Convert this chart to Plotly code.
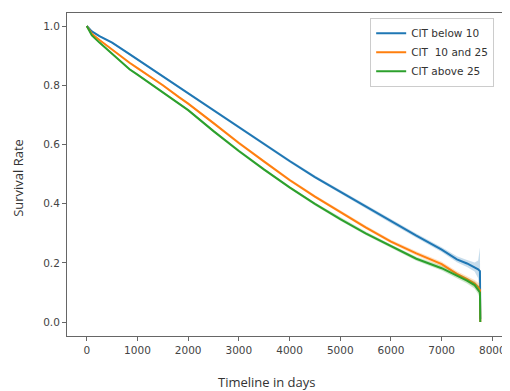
import plotly.graph_objects as go

# ---- data ----
days = [0, 100, 250, 500, 843, 1000, 1500, 1824, 2000, 2500, 3000, 3500, 4000, 4500,
        5000, 5500, 6000, 6500, 7000, 7300, 7500, 7650, 7720, 7755, 7762]

blue_vals = [1.0, 0.982, 0.966, 0.944, 0.905, 0.887, 0.83, 0.792, 0.772, 0.715, 0.658,
             0.601, 0.544, 0.49, 0.44, 0.39, 0.34, 0.292, 0.245, 0.212, 0.198, 0.186,
             0.178, 0.172, 0.01]
orange_vals = [1.0, 0.974, 0.953, 0.92, 0.876, 0.858, 0.8, 0.759, 0.738, 0.672, 0.605,
               0.542, 0.48, 0.424, 0.372, 0.32, 0.272, 0.232, 0.196, 0.163, 0.145, 0.13,
               0.118, 0.108, 0.0]
green_vals = [1.0, 0.968, 0.944, 0.907, 0.854, 0.836, 0.775, 0.737, 0.716, 0.645, 0.578,
              0.515, 0.455, 0.399, 0.348, 0.3, 0.256, 0.214, 0.182, 0.157, 0.14, 0.125,
              0.11, 0.1, 0.0]

blue_ci = [0.0, 0.002, 0.003, 0.003, 0.004, 0.004, 0.004, 0.004, 0.004, 0.005, 0.005,
           0.005, 0.005, 0.005, 0.006, 0.006, 0.006, 0.007, 0.008, 0.01, 0.012, 0.015,
           0.03, 0.08, 0.0]
orange_ci = [0.0, 0.002, 0.003, 0.003, 0.004, 0.004, 0.004, 0.004, 0.004, 0.005, 0.005,
             0.005, 0.005, 0.005, 0.006, 0.006, 0.006, 0.007, 0.008, 0.009, 0.01, 0.012,
             0.015, 0.025, 0.0]
green_ci = [0.0, 0.002, 0.003, 0.003, 0.004, 0.004, 0.004, 0.004, 0.004, 0.005, 0.005,
            0.005, 0.005, 0.005, 0.006, 0.006, 0.006, 0.007, 0.008, 0.009, 0.01, 0.012,
            0.015, 0.02, 0.0]

series_names = ["CIT below 10", "CIT  10 and 25", "CIT above 25"]
series_vals = [blue_vals, orange_vals, green_vals]
series_ci = [blue_ci, orange_ci, green_ci]
colors = ["#1f77b4", "#ff7f0e", "#2ca02c"]
fills = ["rgba(31,119,180,0.25)", "rgba(255,127,14,0.25)", "rgba(44,160,44,0.25)"]

x_ticks = [0, 1000, 2000, 3000, 4000, 5000, 6000, 7000, 8000]
y_ticks = [0.0, 0.2, 0.4, 0.6, 0.8, 1.0]

fig = go.Figure()
for name, vals, ci, col, fc in zip(series_names, series_vals, series_ci, colors, fills):
    lower = [v - c for v, c in zip(vals, ci)]
    upper = [v + c for v, c in zip(vals, ci)]
    fig.add_trace(go.Scatter(x=days, y=lower, mode="lines", line=dict(width=0, color=fc),
                             showlegend=False, hoverinfo="skip"))
    fig.add_trace(go.Scatter(x=days, y=upper, mode="lines", line=dict(width=0, color=fc),
                             fill="tonexty", fillcolor=fc, showlegend=False, hoverinfo="skip"))
    fig.add_trace(go.Scatter(x=days, y=vals, mode="lines", name=name,
                             line=dict(color=col, width=2)))

axis_common = dict(showgrid=False, zeroline=False, showline=True, linecolor="#666",
                   linewidth=1, mirror=True, ticks="outside", ticklen=4, tickcolor="#666",
                   tickfont=dict(family="DejaVu Sans", size=10.5, color="#444"))

fig.update_xaxes(range=[-390, 8190], tickvals=x_ticks, ticktext=[str(t) for t in x_ticks],
                 **axis_common)
fig.update_yaxes(range=[-0.047, 1.044], tickvals=y_ticks,
                 ticktext=[f"{t:.1f}" for t in y_ticks], **axis_common)

# page body has an 8px margin: shrink the figure so it fits the 510x391 window
fig.update_layout(
    width=502, height=383,
    margin=dict(l=59, r=5, t=4, b=55),
    plot_bgcolor="white", paper_bgcolor="white",
    showlegend=True,
    legend=dict(x=0.982, y=0.985, xanchor="right", yanchor="top", traceorder="normal",
                bgcolor="rgba(255,255,255,0.9)", bordercolor="#ccc", borderwidth=1,
                font=dict(family="DejaVu Sans", size=10.5, color="#333"),
                tracegroupgap=0, itemwidth=30),
    annotations=[
        dict(text="Timeline in days", xref="paper", yref="paper", x=(268 - 67) / 438,
             y=-(382 - 336) / 324, xanchor="center", yanchor="middle", showarrow=False,
             font=dict(family="Open Sans", size=13, color="#333")),
        dict(text="Survival Rate", xref="paper", yref="paper", x=-(67 - 18) / 438,
             y=(336 - 177) / 324, xanchor="center", yanchor="middle", showarrow=False,
             textangle=-90, font=dict(family="Open Sans", size=13, color="#333")),
    ],
)

fig.write_html("out.html")
